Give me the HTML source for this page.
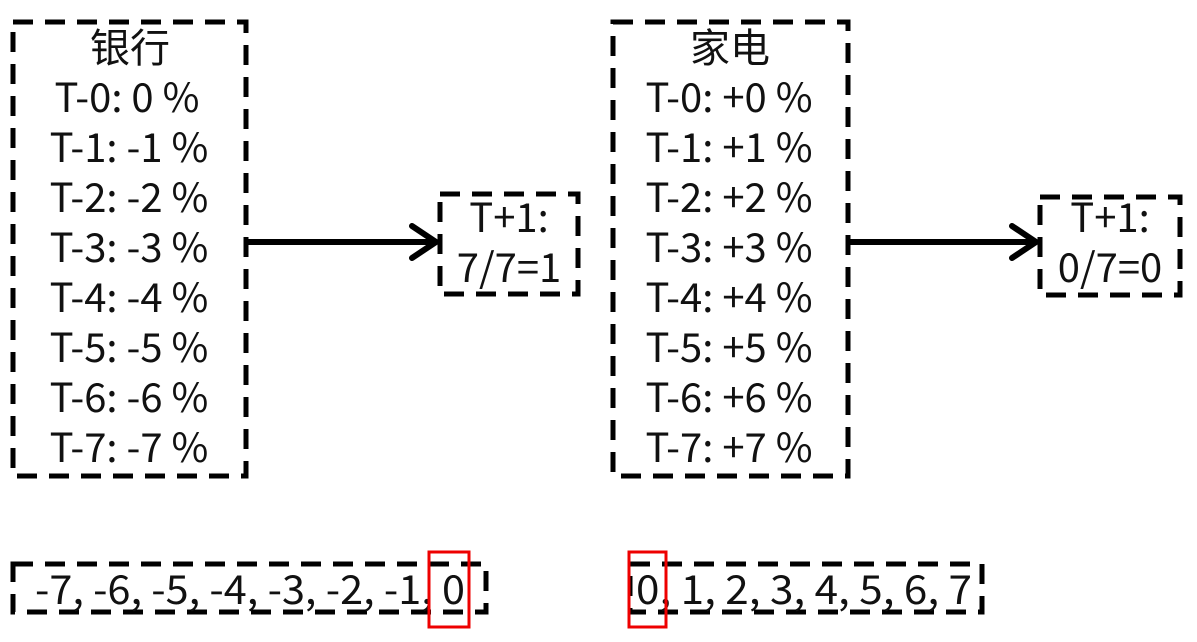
<!DOCTYPE html>
<html><head><meta charset="utf-8"><style>body{margin:0;background:#fff}svg{display:block}</style></head><body>
<svg width="1197" height="642" viewBox="0 0 1197 642" xmlns="http://www.w3.org/2000/svg">
<g fill="none" stroke="#000" stroke-width="5" stroke-dasharray="20 12">
<rect x="13" y="22" width="233" height="454"/>
<rect x="613" y="22" width="235" height="454"/>
<rect x="440" y="194" width="138" height="100"/>
<rect x="1040" y="197" width="140" height="98"/>
<rect x="13" y="564" width="473" height="48"/>
<rect x="630" y="564" width="352" height="48"/>
</g>
<g stroke="#000" stroke-width="6" fill="none" stroke-linecap="round" stroke-linejoin="round">
<line x1="247" y1="242" x2="434" y2="242"/>
<polyline points="412,226 436,242 412,258"/>
<line x1="849" y1="242" x2="1034" y2="242"/>
<polyline points="1012,226 1036,242 1012,258"/>
</g>
<g font-family="'Noto Sans CJK SC',sans-serif" font-size="40" fill="#111" text-anchor="middle">
<text x="130" y="62">银行</text>
<text x="127" y="112">T-0: 0 %</text>
<text x="129" y="162">T-1: -1 %</text>
<text x="129" y="212">T-2: -2 %</text>
<text x="129" y="262">T-3: -3 %</text>
<text x="129" y="312">T-4: -4 %</text>
<text x="129" y="362">T-5: -5 %</text>
<text x="129" y="412">T-6: -6 %</text>
<text x="129" y="462">T-7: -7 %</text>
<text x="730" y="62">家电</text>
<text x="729" y="112">T-0: +0 %</text>
<text x="729" y="162">T-1: +1 %</text>
<text x="729" y="212">T-2: +2 %</text>
<text x="729" y="262">T-3: +3 %</text>
<text x="729" y="312">T-4: +4 %</text>
<text x="729" y="362">T-5: +5 %</text>
<text x="729" y="412">T-6: +6 %</text>
<text x="729" y="462">T-7: +7 %</text>
<text x="509" y="232">T+1:</text>
<text x="509" y="282">7/7=1</text>
<text x="1110" y="232">T+1:</text>
<text x="1110" y="282">0/7=0</text>
<text x="250" y="604" textLength="430" lengthAdjust="spacingAndGlyphs">-7, -6, -5, -4, -3, -2, -1, 0</text>
<text x="804" y="604" textLength="336" lengthAdjust="spacingAndGlyphs">0, 1, 2, 3, 4, 5, 6, 7</text>
</g>
<g fill="none" stroke="#e00" stroke-width="3">
<rect x="429" y="552" width="40" height="75"/>
<rect x="629" y="552" width="37" height="75"/>
</g>
</svg>
</body></html>
